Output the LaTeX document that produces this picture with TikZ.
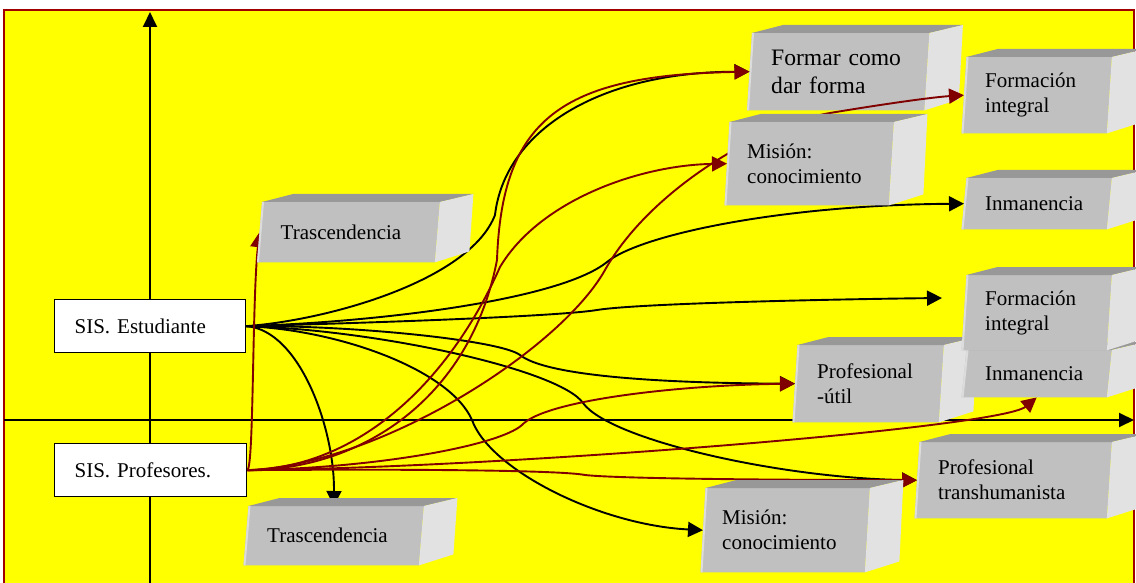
\documentclass[tikz,border=0pt]{standalone}
\usepackage{fontspec}
\setmainfont{Liberation Serif}
\usetikzlibrary{arrows.meta,calc}
\pgfdeclarelayer{bg}
\pgfdeclarelayer{lowcubes}
\pgfdeclarelayer{conn}
\pgfdeclarelayer{cubes}
\pgfsetlayers{bg,lowcubes,conn,cubes,main}
\definecolor{bgyellow}{HTML}{FFFF00}
\definecolor{framered}{HTML}{A00000}
\definecolor{linered}{HTML}{800000}
\definecolor{cfront}{HTML}{C0C0C0}
\definecolor{ctop}{HTML}{989898}
\definecolor{cside}{HTML}{E2E2E2}
\definecolor{chl}{HTML}{DCDCDC}
\newcommand\cubefont{\fontsize{21}{25}\selectfont}
\newcommand\bigcubefont{\fontsize{23.6}{27.5}\selectfont}
\newcommand\cubefaces[2][cubes]{%
  \begin{pgfonlayer}{#1}
  \begin{scope}
  \clip (0,0) rectangle (1136,583);
  \fill[cfront] ($(#2.north west)+(2.5,0)$) -- ($(#2.north east)+(2.5,0)$) -- ($(#2.south east)+(-2.5,0)$) -- ($(#2.south west)+(-2.5,0)$) -- cycle;
  \fill[ctop] ($(#2.north west)+(2.5,0)$) -- ($(#2.north west)+(33.5,-8)$) -- ($(#2.north east)+(36,-8)$) -- ($(#2.north east)+(2.5,0)$) -- cycle;
  \fill[cside] ($(#2.north east)+(2.5,0)$) -- ($(#2.north east)+(36,-8)$) -- ($(#2.south east)+(32,-11)$) -- ($(#2.south east)+(-2.5,0)$) -- cycle;
  \draw[chl, line width=2pt] ($(#2.north west)+(3.5,0)$) -- ($(#2.south west)+(-1.5,0)$);
  \end{scope}
  \end{pgfonlayer}}
\begin{document}
\begin{tikzpicture}[x=1pt,y=-1pt,
  cube/.style={rectangle, inner xsep=21pt, inner ysep=0pt, align=left, font=\cubefont, anchor=north west, text=black},
  sisbox/.style={rectangle, draw=black, line width=1.3pt, fill=white, inner xsep=20pt, inner ysep=0pt, align=left, font=\cubefont, anchor=north west, text width=151pt, minimum height=53pt},
  conn/.style={line width=1.9pt, -{Triangle[length=15pt,width=15pt]}},
  blk/.style={conn, draw=black, fill=none},
  redc/.style={conn, draw=linered, fill=none},
  axis/.style={line width=1.9pt, draw=black, -{Triangle[length=15pt,width=14pt]}}]
\useasboundingbox (0,0) rectangle (1136,583);

\begin{pgfonlayer}{bg}
  \fill[bgyellow] (4,10) rectangle (1134,583);
  \draw[framered, line width=1.5pt] (4,583) -- (4,10) -- (1134,10) -- (1134,583);
  \coordinate (yb) at (150,583);
  \coordinate (yt) at (150,12);
  \coordinate (xl) at (4,420);
  \coordinate (xr) at (1134,420);
  \draw[axis] (yb) -- (yt);
  \draw[axis] (xl) -- (xr);
\end{pgfonlayer}

% source boxes
\node[sisbox] (est) at (54,299) {SIS. Estudiante};
\node[sisbox, text width=152pt] (prof) at (54,443) {SIS. Profesores.};

% 3D boxes
\node[cube, minimum width=177.5pt, minimum height=60pt, text width=135.5pt] (tr1) at (259.5,202) {Trascendencia};
\node[cube, minimum width=175pt, minimum height=59pt, text width=133pt] (tr2) at (246,506) {Trascendencia};
\node[cube, font=\bigcubefont, inner xsep=21.5pt, minimum width=177pt, minimum height=77pt, text width=134pt] (formar) at (749.5,33) {Formar como\\dar forma};
\node[cube, inner xsep=20pt, minimum width=164pt, minimum height=83pt, text width=124pt] (mis1) at (727,122) {Misión:\\conocimiento};
\node[cube, minimum width=145pt, minimum height=76pt, text width=103pt] (fi1) at (964,57) {Formación\\integral};
\node[cube, minimum width=145pt, minimum height=51pt, text width=103pt] (inm1) at (964,178) {Inmanencia};
\node[cube, inner xsep=22pt, minimum width=146pt, minimum height=77pt, text width=102pt] (util) at (795,345) {Profesional\\-útil};
\node[cube, minimum width=145pt, minimum height=47pt, text width=103pt] (inm2) at (964,350) {Inmanencia};
\node[cube, minimum width=145pt, minimum height=75pt, text width=103pt] (fi2) at (964,275) {Formación\\integral};
\node[cube, minimum width=192pt, minimum height=76pt, text width=150pt] (trans) at (917,442) {Profesional\\transhumanista};
\node[cube, inner xsep=19pt, minimum width=164pt, minimum height=84pt, text width=126pt] (mis2) at (703,488) {Misión:\\conocimiento};
\coordinate (b3end) at (942,298);

\cubefaces{tr1}
\cubefaces{tr2}
\cubefaces[lowcubes]{formar}
\cubefaces{mis1}
\cubefaces{fi1}
\cubefaces{inm1}
\cubefaces{util}
\cubefaces{inm2}
\cubefaces{fi2}
\cubefaces{trans}
\cubefaces{mis2}

\begin{pgfonlayer}{conn}
  % from SIS. Estudiante
  \draw[blk] (est.east) .. controls (330,320) and (470,280) .. (495,215) .. controls (505,130) and (600,72) .. (formar.west);
  \draw[blk] (est.east) .. controls (380,322) and (560,300) .. (607,262) .. controls (640,235) and (780,205) .. (inm1.west);
  \draw[blk] (est.east) .. controls (400,322) and (560,316) .. (597,310) .. controls (640,303) and (850,299) .. (b3end);
  \draw[blk] (est.east) .. controls (350,325) and (500,340) .. (520,355) .. controls (545,375) and (650,383) .. (util.west);
  \draw[blk] (est.east) .. controls (380,330) and (560,370) .. (583,403) .. controls (610,440) and (780,478) .. (trans.west);
  \draw[blk] (est.east) .. controls (340,330) and (450,370) .. (472,420) .. controls (490,470) and (600,525) .. (mis2.west);
  \draw[blk] (est.east) .. controls (300,330) and (335,430) .. (tr2.north);
  % from SIS. Profesores.
  \draw[redc] (prof.east) .. controls (254,468) and (252,300) .. (tr1.west);
  \draw[redc] (prof.east) .. controls (360,470) and (470,400) .. (497,260) .. controls (502,120) and (560,75) .. (formar.west);
  \draw[redc] (prof.east) .. controls (360,468) and (450,380) .. (500,267) .. controls (540,200) and (640,165) .. (mis1.west);
  \draw[redc] (prof.east) .. controls (380,465) and (560,350) .. (605,270) .. controls (650,190) and (760,125) .. (830,113) .. controls (890,103) and (935,97) .. (fi1.west);
  \draw[redc] (prof.east) .. controls (380,468) and (500,445) .. (522,425) .. controls (545,400) and (680,385) .. (util.west);
  \draw[redc] (prof.east) .. controls (500,468) and (1000,428) .. (inm2.south);
  \draw[redc] (prof.east) .. controls (400,469) and (560,470) .. (585,475) .. controls (620,479) and (800,480) .. (trans.west);
\end{pgfonlayer}
\end{tikzpicture}
\end{document}
